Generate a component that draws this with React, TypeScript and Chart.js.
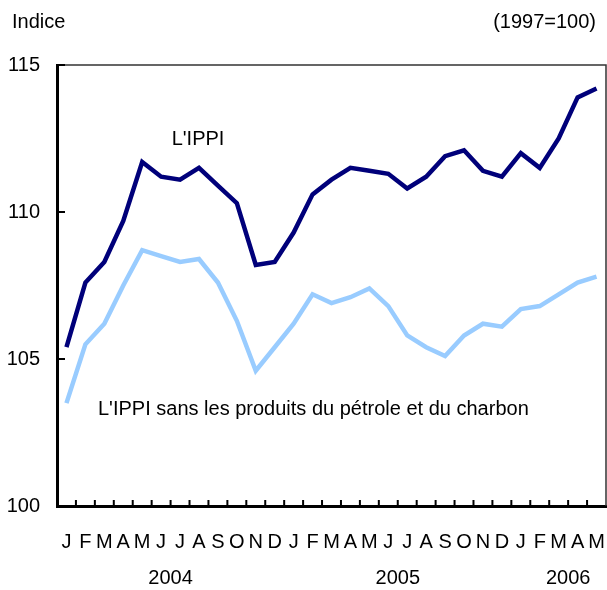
import { useEffect, useRef } from "react";
import { Chart, registerables } from "chart.js";

Chart.register(...registerables);

const months = [
  "J", "F", "M", "A", "M", "J", "J", "A", "S", "O", "N", "D",
  "J", "F", "M", "A", "M", "J", "J", "A", "S", "O", "N", "D",
  "J", "F", "M", "A", "M",
];

const ippi = [
  105.4, 107.6, 108.3, 109.7, 111.7, 111.2, 111.1, 111.5, 110.9, 110.3, 108.2, 108.3,
  109.3, 110.6, 111.1, 111.5, 111.4, 111.3, 110.8, 111.2, 111.9, 112.1, 111.4, 111.2,
  112.0, 111.5, 112.5, 113.9, 114.2,
];

const ippiSansPetrole = [
  103.5, 105.5, 106.2, 107.5, 108.7, 108.5, 108.3, 108.4, 107.6, 106.3, 104.6, 105.4,
  106.2, 107.2, 106.9, 107.1, 107.4, 106.8, 105.8, 105.4, 105.1, 105.8, 106.2, 106.1,
  106.7, 106.8, 107.2, 107.6, 107.8,
];

const yearLabels = ["2004", "2005", "2006"];
const yearCenterIndex = [5.5, 17.5, 26.5];

const yTicks = [100, 105, 110, 115];

const FONT = "'Liberation Sans', Arial, sans-serif";

export default function App() {
  const ref = useRef<HTMLCanvasElement | null>(null);

  useEffect(() => {
    document.body.style.margin = "0";
    const canvas = ref.current;
    if (!canvas) return;

    const decor = {
      id: "decor",
      afterDraw(chart: any) {
        const { ctx, chartArea } = chart;
        const xs = chart.scales.x;
        const ys = chart.scales.y;
        const { left, right, top, bottom } = chartArea;
        ctx.save();
        ctx.strokeStyle = "#333";
        ctx.lineWidth = 1.5;
        ctx.beginPath();
        ctx.moveTo(left, top);
        ctx.lineTo(right, top);
        ctx.lineTo(right, bottom);
        ctx.stroke();
        ctx.strokeStyle = "#000";
        ctx.lineWidth = 2;
        ctx.beginPath();
        for (const v of yTicks) {
          const y = ys.getPixelForValue(v);
          ctx.moveTo(left, y);
          ctx.lineTo(left + 8, y);
        }
        for (let i = 1; i < months.length; i++) {
          const x = (xs.getPixelForValue(i - 1) + xs.getPixelForValue(i)) / 2;
          ctx.moveTo(x, bottom);
          ctx.lineTo(x, bottom - 6);
        }
        ctx.stroke();
        ctx.fillStyle = "#000";
        ctx.font = `20px ${FONT}`;
        ctx.textBaseline = "middle";
        ctx.textAlign = "left";
        ctx.fillText("Indice", 12, 22);
        ctx.textAlign = "right";
        ctx.fillText("(1997=100)", 596, 22);
        ctx.textAlign = "center";
        for (let k = 0; k < yearLabels.length; k++) {
          const idx = yearCenterIndex[k];
          const i0 = Math.floor(idx);
          const f = idx - i0;
          const x = xs.getPixelForValue(i0) * (1 - f) + xs.getPixelForValue(Math.min(i0 + 1, months.length - 1)) * f;
          ctx.fillText(yearLabels[k], x, 578);
        }
        ctx.fillText("L'IPPI", 198, 139);
        ctx.textAlign = "left";
        ctx.fillText("L'IPPI sans les produits du pétrole et du charbon", 98, 409);
        ctx.restore();
      },
    };

    const chart = new Chart(canvas, {
      type: "line",
      data: {
        labels: months,
        datasets: [
          {
            label: "L'IPPI",
            data: ippi,
            borderColor: "#00007a",
            borderWidth: 4.5,
            pointRadius: 0,
            tension: 0,
            fill: false,
          },
          {
            label: "L'IPPI sans les produits du pétrole et du charbon",
            data: ippiSansPetrole,
            borderColor: "#99ccff",
            borderWidth: 4.5,
            pointRadius: 0,
            tension: 0,
            fill: false,
          },
        ],
      },
      options: {
        responsive: false,
        animation: false,
        devicePixelRatio: 1,
        layout: { padding: { top: 65, right: 1, left: 0, bottom: 0 } },
        plugins: {
          legend: { display: false },
          tooltip: { enabled: false },
          title: { display: false },
        },
        scales: {
          x: {
            type: "category",
            offset: true,
            grid: { display: false, drawTicks: false },
            border: { display: true, color: "#000", width: 3 },
            ticks: {
              color: "#000",
              font: { family: FONT, size: 20 },
              padding: 24,
              maxRotation: 0,
              autoSkip: false,
            },
            afterFit: (s: any) => {
              s.height = 84;
              s.paddingLeft = 0;
              s.paddingRight = 0;
            },
          },
          y: {
            min: 100,
            max: 115,
            grid: { display: false, drawTicks: false },
            border: { display: true, color: "#000", width: 3 },
            ticks: {
              stepSize: 5,
              color: "#000",
              font: { family: FONT, size: 20 },
              padding: 17,
            },
            afterFit: (s: any) => {
              s.width = 57;
              s.paddingTop = 0;
              s.paddingBottom = 0;
            },
          },
        },
      },
      plugins: [decor],
    });

    return () => chart.destroy();
  }, []);

  return <canvas ref={ref} width={607} height={590} style={{ display: "block", width: 607, height: 590 }} />;
}
